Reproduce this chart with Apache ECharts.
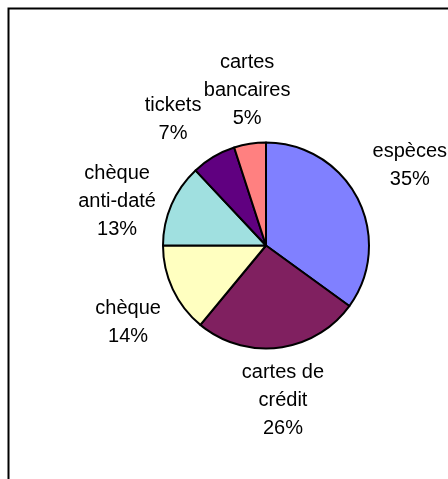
<!DOCTYPE html>
<html>
<head>
<meta charset="utf-8">
<script src="https://cdn.jsdelivr.net/npm/echarts@6/dist/echarts.min.js"></script>
<style>
html,body{margin:0;padding:0;background:#fff;}
#c{width:448px;height:479px;}
</style>
</head>
<body>
<div id="c"></div>
<script>
var categories = ['espèces', 'cartes de\ncrédit', 'chèque', 'chèque\nanti-daté', 'tickets', 'cartes\nbancaires'];
var values = [35, 26, 14, 13, 7, 5];
var colors = ['#8080FF', '#802060', '#FFFFC0', '#A0E0E0', '#600080', '#FF8080'];
// small per-label nudges (px) to match the original manual label placement
var labelNudgeX = [-5, -3, 6, -3, -12, 6];
var labelNudgeY = [-4, -3, 9, 19, 11, 2];

var chart = echarts.init(document.getElementById('c'), null, {renderer: 'canvas'});
var data = categories.map(function (n, i) {
  return {name: n, value: values[i], itemStyle: {color: colors[i]}};
});
var CX = 266, CY = 245.5, R = 103, LD = 56;
var total = values.reduce(function (a, b) { return a + b; }, 0);

chart.setOption({
  animation: false,
  graphic: [{
    type: 'rect', left: 6, top: 6,
    shape: {width: 520, height: 520},
    style: {fill: 'none', stroke: '#000', lineWidth: 2},
    silent: true
  }],
  series: [{
    type: 'pie',
    center: [CX, CY],
    radius: R,
    startAngle: 90,
    clockwise: true,
    data: data,
    itemStyle: {borderColor: '#000', borderWidth: 2},
    label: {
      show: true,
      position: 'outside',
      formatter: '{b}\n{d}%',
      fontFamily: 'Liberation Sans, Arial, sans-serif',
      fontSize: 20,
      lineHeight: 28,
      color: '#000',
      align: 'center',
      overflow: 'none',
      width: 200
    },
    labelLine: {show: false},
    labelLayout: function (p) {
      var i = p.dataIndex, cum = 0;
      for (var k = 0; k < i; k++) cum += values[k];
      var mid = (cum + values[i] / 2) / total * Math.PI * 2;
      var d = R + LD + (i === 0 ? 8 : 0);
      return {
        x: CX + Math.sin(mid) * d + labelNudgeX[i],
        y: CY - Math.cos(mid) * d + labelNudgeY[i],
        align: 'center',
        verticalAlign: 'middle'
      };
    }
  }]
});
</script>
</body>
</html>
